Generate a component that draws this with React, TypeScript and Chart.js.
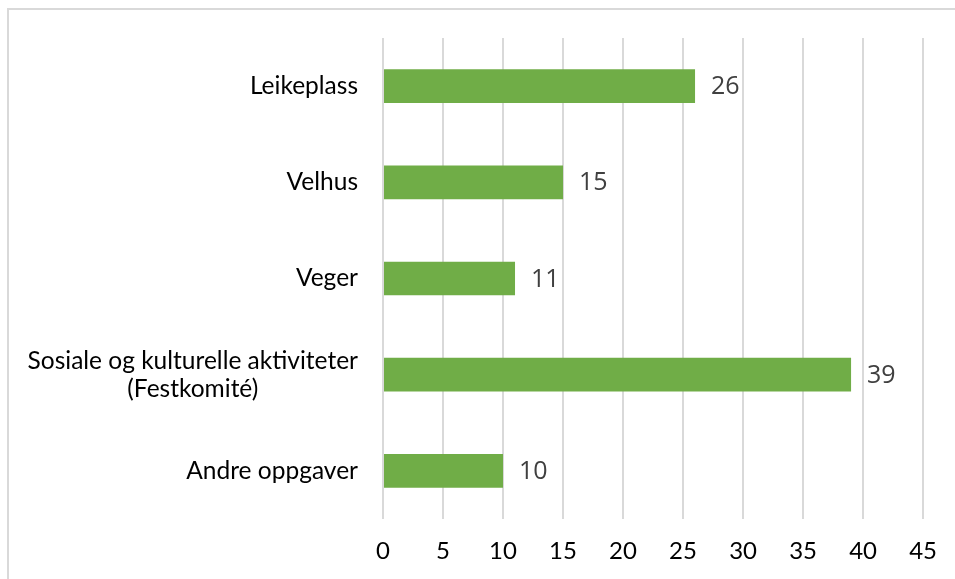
import React, { useEffect, useRef } from "react";
import { Chart, registerables } from "chart.js";

Chart.register(...registerables);

const categories: string[][] = [
  ["Leikeplass"],
  ["Velhus"],
  ["Veger"],
  ["Sosiale og kulturelle aktiviteter", "(Festkomité)"],
  ["Andre oppgaver"],
];
const values: number[] = [26, 15, 11, 39, 10];
const xTicks: number[] = [0, 5, 10, 15, 20, 25, 30, 35, 40, 45];

const W = 955;
const H = 579;

export default function App() {
  const ref = useRef<HTMLCanvasElement | null>(null);

  useEffect(() => {
    if (!ref.current) return;
    const ctxEl = ref.current;

    const framePlugin = {
      id: "frame",
      beforeDraw(chart: any) {
        const c = chart.ctx;
        c.save();
        c.fillStyle = "#d9d9d9";
        c.fillRect(7, 8, 2, H - 8);
        c.fillRect(7, 8, W - 7, 2);
        c.restore();
      },
    };

    const labelPlugin = {
      id: "labels",
      afterDatasetsDraw(chart: any) {
        const c = chart.ctx;
        const ys = chart.scales.y;
        const xs = chart.scales.x;
        c.save();
        // category labels
        c.font = "24.5px Lato";
        c.fillStyle = "#000000";
        c.textBaseline = "middle";
        const rightEdge = 358;
        const lh = 28;
        categories.forEach((lines, i) => {
          const yc = ys.getPixelForValue(i);
          const widths = lines.map((l) => c.measureText(l).width);
          const maxW = Math.max(...widths);
          const cx = rightEdge - maxW / 2;
          const y0 = yc - ((lines.length - 1) * lh) / 2;
          lines.forEach((l, k) => {
            c.textAlign = lines.length > 1 ? "center" : "right";
            c.fillText(l, lines.length > 1 ? cx : rightEdge, y0 + k * lh);
          });
        });
        // data labels
        c.font = "25px 'Open Sans'";
        c.fillStyle = "#404040";
        c.textAlign = "left";
        values.forEach((v, i) => {
          const x = xs.getPixelForValue(v) + 16;
          const y = ys.getPixelForValue(i);
          c.fillText(String(v), x, y + 1);
        });
        c.restore();
      },
    };

    const chart = new Chart(ctxEl, {
      type: "bar",
      data: {
        labels: categories.map((l) => l.join(" ")),
        datasets: [
          {
            data: values,
            backgroundColor: "#70ad47",
            barPercentage: 0.35,
            categoryPercentage: 1,
          },
        ],
      },
      options: {
        indexAxis: "y",
        responsive: false,
        animation: false,
        layout: { padding: { left: 0, right: 30, top: 38, bottom: 0 } },
        plugins: {
          legend: { display: false },
          tooltip: { enabled: false },
        },
        scales: {
          x: {
            min: 0,
            max: 45,
            afterFit(scale: any) {
              scale.height = 60;
            },
            afterBuildTicks(scale: any) {
              scale.ticks = xTicks.map((v) => ({ value: v }));
            },
            grid: {
              color: "#d9d9d9",
              lineWidth: 2,
              drawTicks: false,
            },
            border: { display: false },
            ticks: {
              padding: 18,
              color: "#000000",
              font: { family: "Lato", size: 24 },
            },
          },
          y: {
            afterFit(scale: any) {
              scale.width = 383;
            },
            grid: { display: false },
            border: { display: false },
            ticks: { display: false },
          },
        },
      },
      plugins: [framePlugin, labelPlugin],
    });

    return () => chart.destroy();
  }, []);

  return (
    <div style={{ position: "fixed", left: 0, top: 0, width: W, height: H, background: "#fff" }}>
      <canvas ref={ref} width={W} height={H} style={{ display: "block" }} />
    </div>
  );
}
